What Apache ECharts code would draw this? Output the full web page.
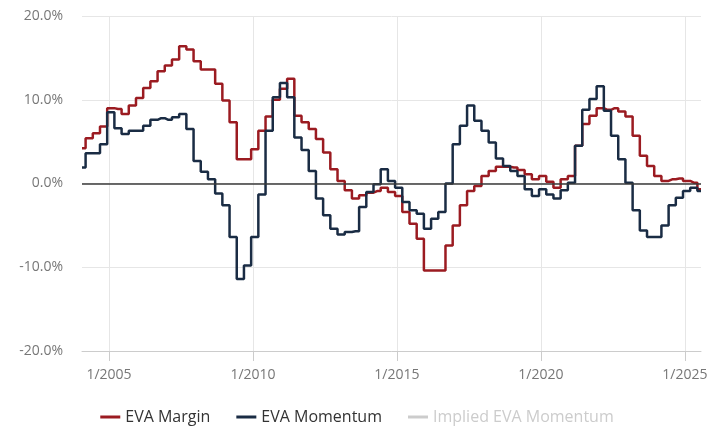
<!DOCTYPE html>
<html>
<head>
<meta charset="utf-8">
<script src="https://cdn.jsdelivr.net/npm/echarts@6/dist/echarts.min.js"></script>
<style>
  html, body { margin: 0; padding: 0; background: #fff; }
  #eva-chart { width: 714px; height: 426px; }
</style>
</head>
<body>
<div id="eva-chart"></div>
<script>
// quarterly observations, first one late Jan 2004 (x in decimal years)
const firstYear = 2004;
const firstMonthFrac = 0.74; // ~24th of January
const obsCount = 87;

const tickYears = [2005, 2010, 2015, 2020, 2025];
const yMin = -20;
const yMax = 20;
const yStep = 10;

// EVA Margin (%)
const evaMargin = [
  4.2, 5.4, 6.0, 6.8, 9.0, 8.9, 8.3, 9.3, 10.2, 11.4,
  12.2, 13.4, 14.1, 14.8, 16.4, 16.0, 14.6, 13.6, 13.6, 11.9,
  9.9, 7.3, 2.9, 2.9, 4.1, 6.3, 8.0, 10.0, 11.3, 12.5,
  8.1, 7.3, 6.5, 5.3, 3.7, 1.7, 0.3, -0.8, -1.8, -1.4,
  -1.1, -0.9, -0.5, -1.0, -1.5, -3.4, -4.8, -6.6, -10.4, -10.4,
  -10.4, -7.4, -5.0, -2.6, -0.9, -0.3, 0.9, 1.5, 2.0, 2.0,
  1.9, 1.6, 1.1, 0.5, 0.9, 0.2, -0.5, 0.5, 0.9, 4.5,
  7.1, 8.1, 9.0, 8.8, 9.0, 8.6, 8.0, 5.7, 3.3, 2.1,
  0.9, 0.3, 0.5, 0.6, 0.3, 0.1, -0.7
];

// EVA Momentum (%)
const evaMomentum = [
  1.9, 3.6, 3.6, 4.7, 8.5, 6.6, 5.9, 6.3, 6.3, 6.9,
  7.6, 7.8, 7.6, 7.9, 8.3, 6.5, 2.7, 1.4, 0.5, -1.2,
  -2.6, -6.4, -11.4, -9.8, -6.4, -1.3, 6.3, 10.3, 12.0, 10.3,
  5.5, 4.0, 1.5, -1.8, -3.8, -5.4, -6.1, -5.8, -5.7, -2.8,
  -1.0, -0.1, 1.7, 0.3, -0.5, -2.2, -3.2, -3.6, -5.4, -4.2,
  -3.4, 0.0, 4.7, 6.9, 9.3, 7.5, 6.3, 4.9, 3.0, 2.1,
  1.5, 0.9, -0.7, -1.5, -0.7, -1.3, -1.8, -0.8, 0.1, 4.5,
  8.8, 10.1, 11.6, 8.7, 5.7, 2.9, 0.1, -3.2, -5.6, -6.4,
  -6.4, -5.0, -2.6, -1.7, -0.9, -0.5, -0.9
];

// hidden in the legend (greyed out), no values shown
const impliedMomentum = [];

const dates = [];
for (let i = 0; i < obsCount; i++) {
  dates.push(firstYear + (firstMonthFrac + 3 * i) / 12);
}

const pair = (arr) => arr.map((v, i) => [dates[i], v]);

const FONT = "'Open Sans', 'Noto Sans', sans-serif";

const chart = echarts.init(document.getElementById("eva-chart"));
chart.setOption({
  animation: false,
  grid: {
    left: 82,
    right: 13,
    top: 16,
    bottom: 75,
    outerBoundsMode: "none",
  },
  legend: {
    left: "center",
    top: 404,
    icon: "rect",
    itemWidth: 20,
    itemHeight: 3,
    itemGap: 26,
    inactiveColor: "#cccccc",
    textStyle: { color: "#333333", fontSize: 16, fontFamily: FONT },
    data: ["EVA Margin", "EVA Momentum", "Implied EVA Momentum"],
    selected: { "Implied EVA Momentum": false },
  },
  xAxis: {
    type: "value",
    min: dates[0],
    max: dates[dates.length - 1],
    axisLine: { onZero: false, lineStyle: { color: "#cccccc", width: 1 } },
    axisTick: {
      show: true,
      length: 10,
      customValues: tickYears,
      lineStyle: { color: "#cccccc" },
    },
    axisLabel: {
      customValues: tickYears,
      margin: 17,
      color: "#777777",
      fontSize: 14,
      fontFamily: FONT,
      formatter: (v) => "1/" + Math.round(v),
    },
    splitLine: { show: true, lineStyle: { color: "#e6e6e6", width: 1 } },
  },
  yAxis: {
    type: "value",
    min: yMin,
    max: yMax,
    interval: yStep,
    axisLine: { show: false },
    axisTick: { show: false },
    axisLabel: {
      margin: 19,
      color: "#777777",
      fontSize: 14,
      fontFamily: FONT,
      formatter: (v) => v.toFixed(1) + "%",
    },
    splitLine: { lineStyle: { color: "#e6e6e6", width: 1 } },
  },
  series: [
    {
      name: "EVA Margin",
      type: "line",
      step: "middle",
      symbol: "none",
      color: "#9b1b21",
      lineStyle: { width: 2.5 },
      data: pair(evaMargin),
      markLine: {
        silent: true,
        symbol: "none",
        label: { show: false },
        lineStyle: { color: "#3a3a3a", width: 1.5, type: "solid" },
        data: [{ yAxis: 0 }],
      },
    },
    {
      name: "EVA Momentum",
      type: "line",
      step: "middle",
      symbol: "none",
      color: "#1a2c44",
      lineStyle: { width: 2.5 },
      data: pair(evaMomentum),
    },
    {
      name: "Implied EVA Momentum",
      type: "line",
      symbol: "none",
      color: "#cccccc",
      data: pair(impliedMomentum),
    },
  ],
});
</script>
</body>
</html>
